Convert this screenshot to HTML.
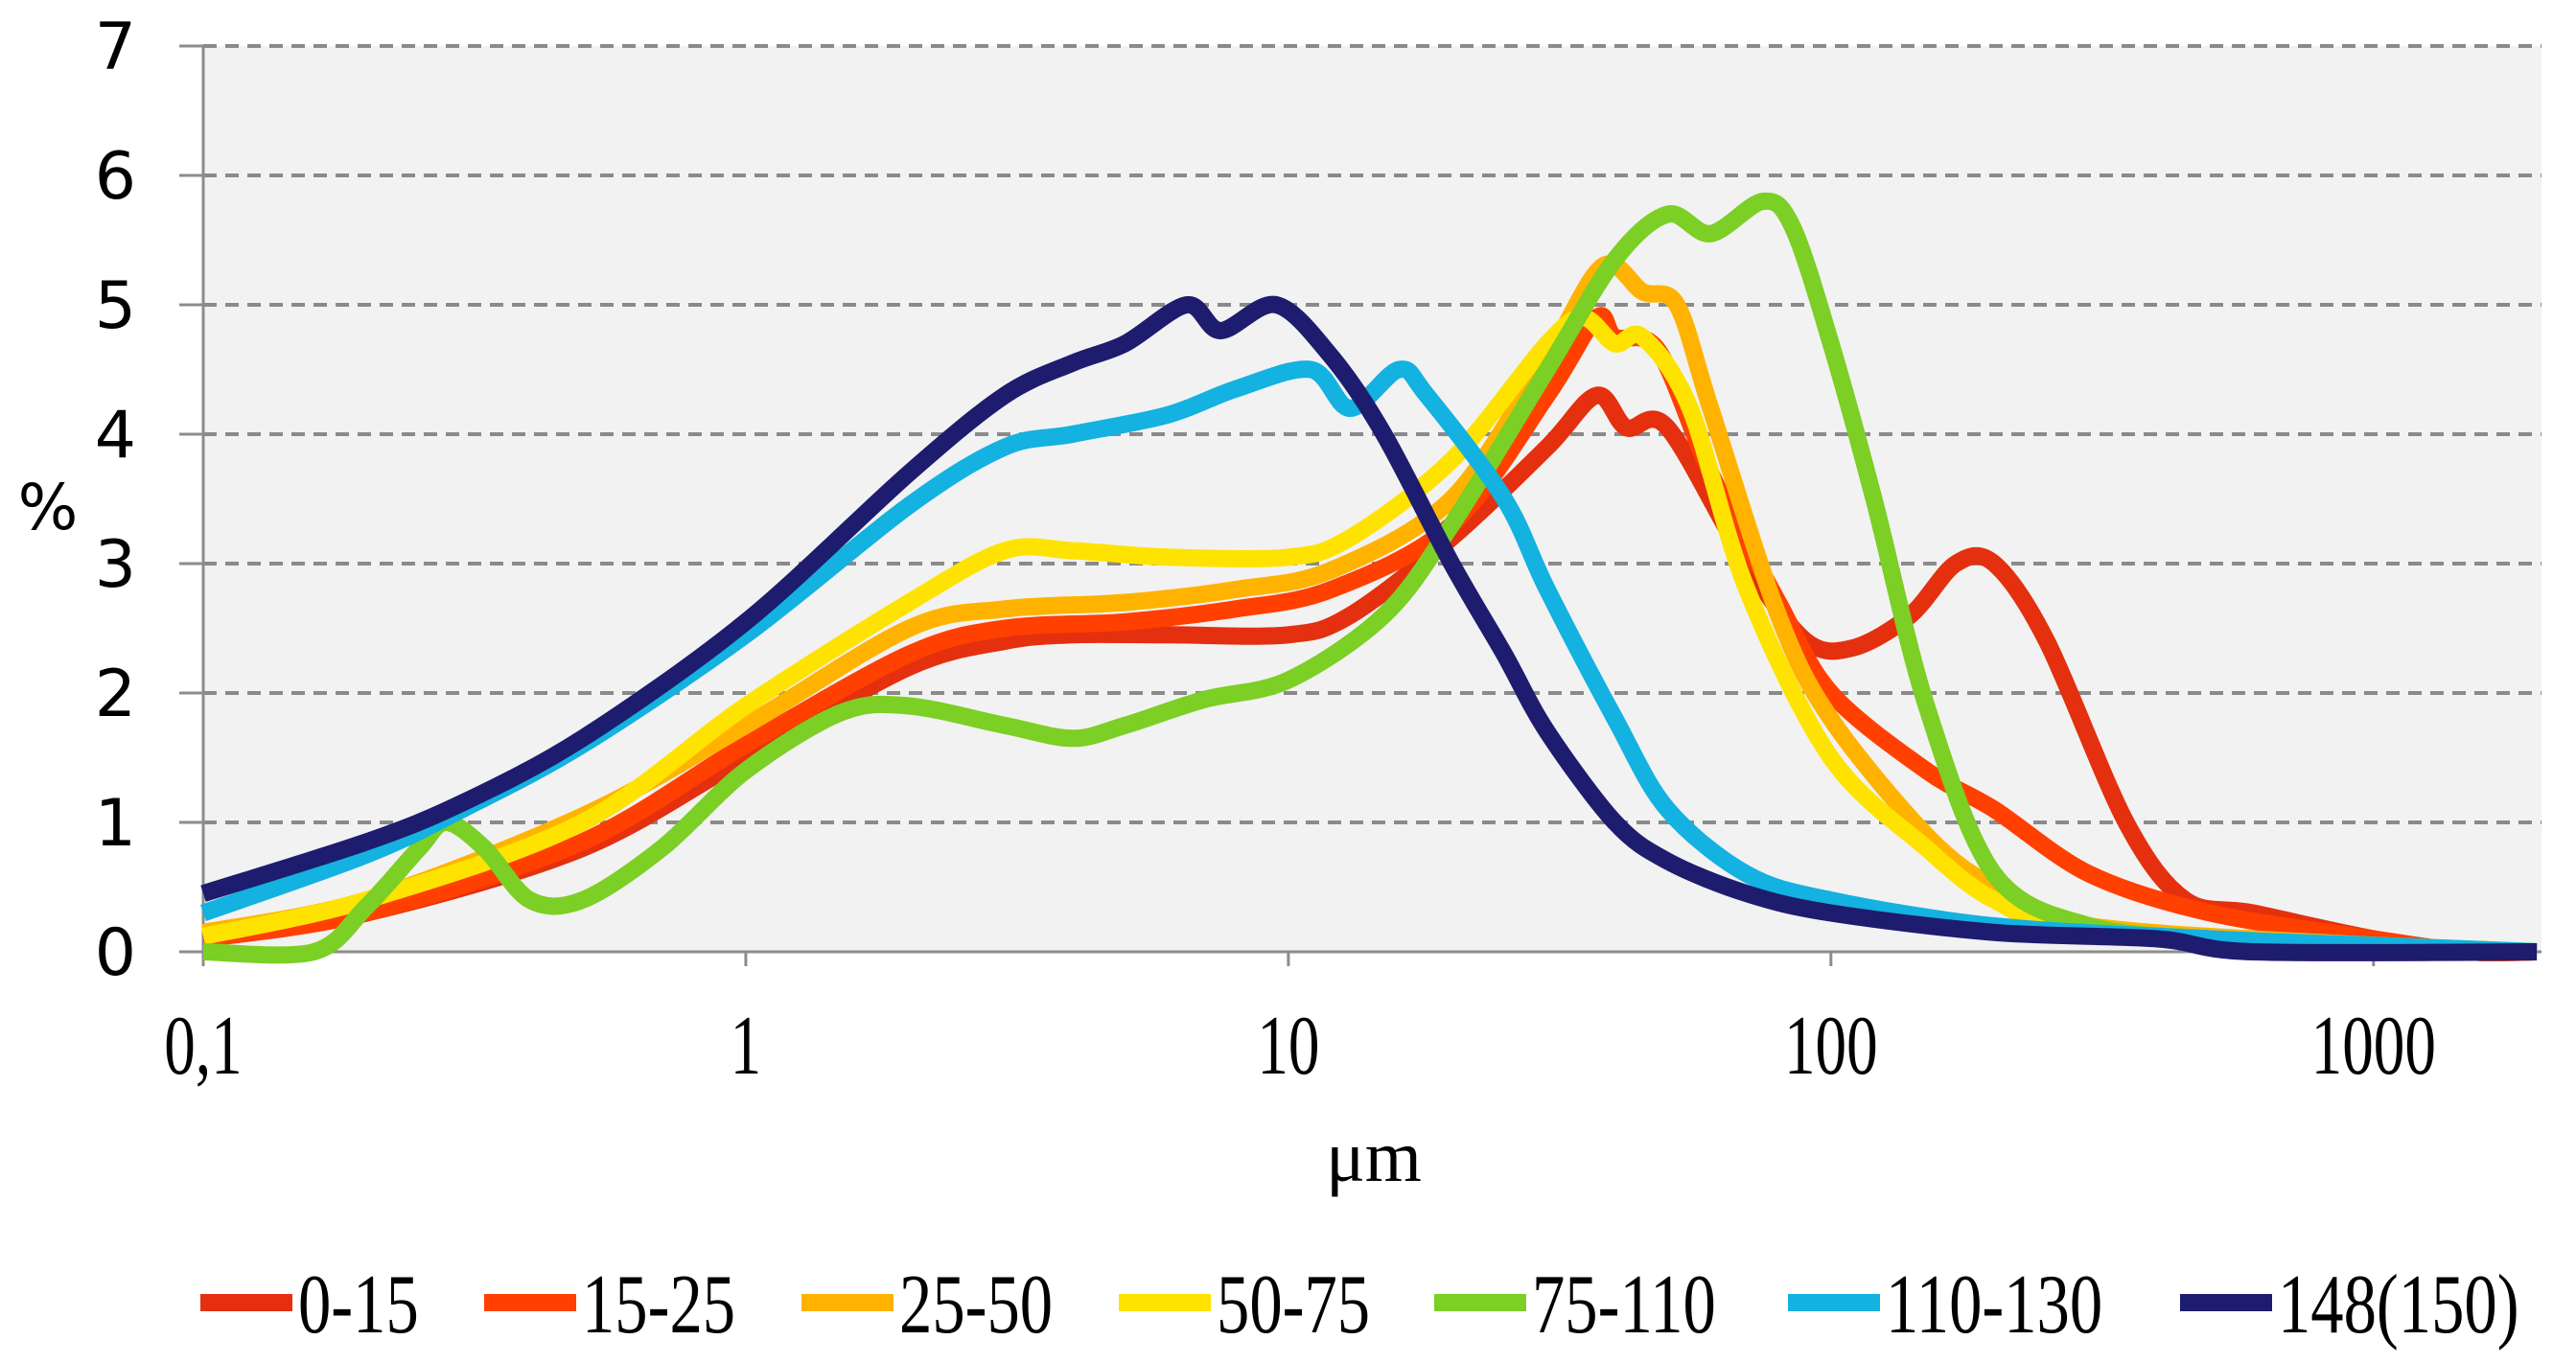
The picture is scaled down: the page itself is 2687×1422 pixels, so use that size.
<!DOCTYPE html>
<html><head><meta charset="utf-8"><style>
html,body{margin:0;padding:0;background:#fff;}
svg{display:block;}
</style></head><body>
<svg id="chart" width="2687" height="1422" viewBox="0 0 2687 1422" xmlns="http://www.w3.org/2000/svg">
<rect x="212" y="48" width="2439" height="945" fill="#f2f2f2"/>
<g id="grid"></g>
<g id="axes"></g>
<g id="series"></g>
<text x="50" y="552" font-family="DejaVu Sans, sans-serif" font-size="66" text-anchor="middle" fill="#000">%</text>
<text x="1433" y="1232" font-family="Liberation Serif, serif" font-size="76" text-anchor="middle" fill="#000">μm</text>
<g id="legend"></g>
</svg>
<script>
const NS='http://www.w3.org/2000/svg';
const seriesNames=['0-15','15-25','25-50','50-75','75-110','110-130','148(150)'];
const seriesColors=['#e4300f','#ff4000','#ffb300','#ffe300','#7ccf24','#13b2e0','#1e1c6e'];
const yTicks=[0,1,2,3,4,5,6,7];
const xTicks=[0.1,1,10,100,1000];
const xTickLabels=['0,1','1','10','100','1000'];
const x015=[0.1,0.2,0.5,1,2,3,4,6,10,13,20,30,37,42,50,70,90,110,140,170,200,250,350,450,600,1000,1500,2000];
const y015=[0.1,0.3,0.8,1.5,2.2,2.4,2.45,2.45,2.45,2.6,3.2,3.9,4.3,4.05,4.05,3.0,2.4,2.35,2.6,3.0,3.0,2.4,1.0,0.4,0.3,0.1,0,0];
const x1525=[0.1,0.2,0.5,1,2,3,5,8,12,20,30,37,40,48,60,80,100,150,200,300,500,1000,1500,2000];
const y1525=[0.1,0.3,0.85,1.6,2.3,2.5,2.55,2.65,2.8,3.3,4.3,4.9,4.75,4.65,3.7,2.7,2.0,1.4,1.1,0.6,0.3,0.1,0,0];
const x2550=[0.1,0.2,0.5,1,2,3,5,8,12,20,30,38,45,52,60,80,100,150,200,300,1000,2000];
const y2550=[0.15,0.4,1.05,1.75,2.5,2.65,2.7,2.8,2.95,3.5,4.6,5.3,5.1,5.0,4.2,2.6,1.8,0.9,0.5,0.2,0.05,0];
const x5075=[0.1,0.2,0.5,1,2,3,4,6,10,13,20,30,35,40,45,55,70,100,150,200,300,1000,2000];
const y5075=[0.12,0.4,1.0,1.9,2.7,3.1,3.1,3.05,3.05,3.2,3.8,4.7,4.9,4.7,4.75,4.2,2.8,1.5,0.8,0.4,0.15,0.05,0];
const x75110=[0.1,0.16,0.2,0.25,0.28,0.33,0.4,0.5,0.7,1,1.5,2,3,4,5,7,10,15,20,30,40,50,60,75,85,100,120,150,200,300,500,1000,2000];
const y75110=[0,0,0.35,0.8,1.0,0.8,0.4,0.4,0.8,1.4,1.85,1.9,1.75,1.65,1.75,1.95,2.1,2.6,3.3,4.5,5.35,5.7,5.55,5.8,5.6,4.7,3.5,1.9,0.6,0.2,0.1,0.05,0];
const x110130=[0.1,0.2,0.3,0.5,1,2,3,4,6,8,11,13,16,18,25,30,40,50,70,100,200,500,1000,2000];
const y110130=[0.3,0.75,1.1,1.6,2.45,3.45,3.9,4.0,4.15,4.35,4.5,4.2,4.5,4.3,3.5,2.8,1.8,1.1,0.6,0.4,0.2,0.1,0.05,0];
const x148=[0.1,0.2,0.3,0.5,1,2,3,4,5,6.5,7.5,9.5,12,15,20,25,30,40,50,70,100,200,400,600,2000];
const y148=[0.45,0.85,1.15,1.65,2.55,3.7,4.3,4.55,4.7,5.0,4.8,5.0,4.6,4.0,3.0,2.3,1.7,1.0,0.7,0.45,0.3,0.15,0.1,0,0];
const seriesX=[x015,x1525,x2550,x5075,x75110,x110130,x148];
const seriesY=[y015,y1525,y2550,y5075,y75110,y110130,y148];

const L=212,R=2651,T=48,B=993;
const lmin=-1,lmax=Math.log10(2040);
function sx(v){return L+(Math.log10(v)-lmin)/(lmax-lmin)*(R-L);}
function sy(v){return B-v/7*(B-T);}

const grid=document.getElementById('grid');
yTicks.forEach(t=>{
  if(t>0){
    const g=document.createElementNS(NS,'line');
    
    
    g.setAttribute('x1',L);g.setAttribute('x2',R);g.setAttribute('y1',sy(t));g.setAttribute('y2',sy(t));
    g.setAttribute('stroke','#8a8a8a');g.setAttribute('stroke-width','4');g.setAttribute('stroke-dasharray','14 9');
    grid.appendChild(g);
  }
});
const axes=document.getElementById('axes');
function ln(x1,y1,x2,y2,name){const l=document.createElementNS(NS,'line');
  
  
  l.setAttribute('x1',x1);l.setAttribute('y1',y1);l.setAttribute('x2',x2);l.setAttribute('y2',y2);
  l.setAttribute('stroke','#8c8c8c');l.setAttribute('stroke-width','3');axes.appendChild(l);}
ln(L,T,L,B+15,'y-axis-line');
ln(L,B,R,B,'x-axis-line');
yTicks.forEach(t=>{
  ln(187,sy(t),L,sy(t),'y-tick');
  const tx=document.createElementNS(NS,'text');
  
  
  tx.setAttribute('x',142);tx.setAttribute('y',sy(t)+24);tx.setAttribute('text-anchor','end');
  tx.setAttribute('font-family','DejaVu Sans, sans-serif');tx.setAttribute('font-size','68');
  tx.textContent=t;axes.appendChild(tx);
});
xTicks.forEach((t,i)=>{
  ln(sx(t),B,sx(t),B+15,'x-tick');
  const tx=document.createElementNS(NS,'text');
  
  
  tx.setAttribute('x',sx(t));tx.setAttribute('y',1120);tx.setAttribute('text-anchor','middle');
  tx.setAttribute('font-family','Liberation Serif, serif');tx.setAttribute('font-size','88');
  tx.setAttribute('transform','translate('+sx(t)+',0) scale(0.74,1) translate('+(-sx(t))+',0)');
  tx.textContent=xTickLabels[i];axes.appendChild(tx);
});
function smoothPath(pts){
  let d='M'+pts[0][0].toFixed(1)+','+pts[0][1].toFixed(1);
  for(let i=0;i<pts.length-1;i++){
    const p0=pts[Math.max(0,i-1)],p1=pts[i],p2=pts[i+1],p3=pts[Math.min(pts.length-1,i+2)];
    const k=0.16;
    const c1=[p1[0]+(p2[0]-p0[0])*k,p1[1]+(p2[1]-p0[1])*k];
    const c2=[p2[0]-(p3[0]-p1[0])*k,p2[1]-(p3[1]-p1[1])*k];
    d+=' C'+c1[0].toFixed(1)+','+c1[1].toFixed(1)+' '+c2[0].toFixed(1)+','+c2[1].toFixed(1)+' '+p2[0].toFixed(1)+','+p2[1].toFixed(1);
  }
  return d;
}
const sg=document.getElementById('series');
seriesNames.forEach((n,i)=>{
  const p=document.createElementNS(NS,'path');
  
  
  p.setAttribute('d',smoothPath(seriesX[i].map((x,j)=>[sx(x),sy(seriesY[i][j])])));
  p.setAttribute('fill','none');p.setAttribute('stroke',seriesColors[i]);p.setAttribute('stroke-width','18');
  p.setAttribute('stroke-linejoin','round');p.setAttribute('stroke-linecap','butt');
  sg.appendChild(p);
});
const lg=document.getElementById('legend');
const legX=[209,505,836,1167,1496,1865,2274];
seriesNames.forEach((n,i)=>{
  const r=document.createElementNS(NS,'rect');
  
  
  r.setAttribute('x',legX[i]);r.setAttribute('y',1350);r.setAttribute('width',96);r.setAttribute('height',18);
  r.setAttribute('fill',seriesColors[i]);lg.appendChild(r);
  const t=document.createElementNS(NS,'text');
  
  
  const tx=legX[i]+102;
  t.setAttribute('x',tx);t.setAttribute('y',1390);
  t.setAttribute('font-family','Liberation Serif, serif');t.setAttribute('font-size','88');
  t.setAttribute('transform','translate('+tx+',0) scale(0.78,1) translate('+(-tx)+',0)');
  t.textContent=n;lg.appendChild(t);
});
</script>
</body></html>
